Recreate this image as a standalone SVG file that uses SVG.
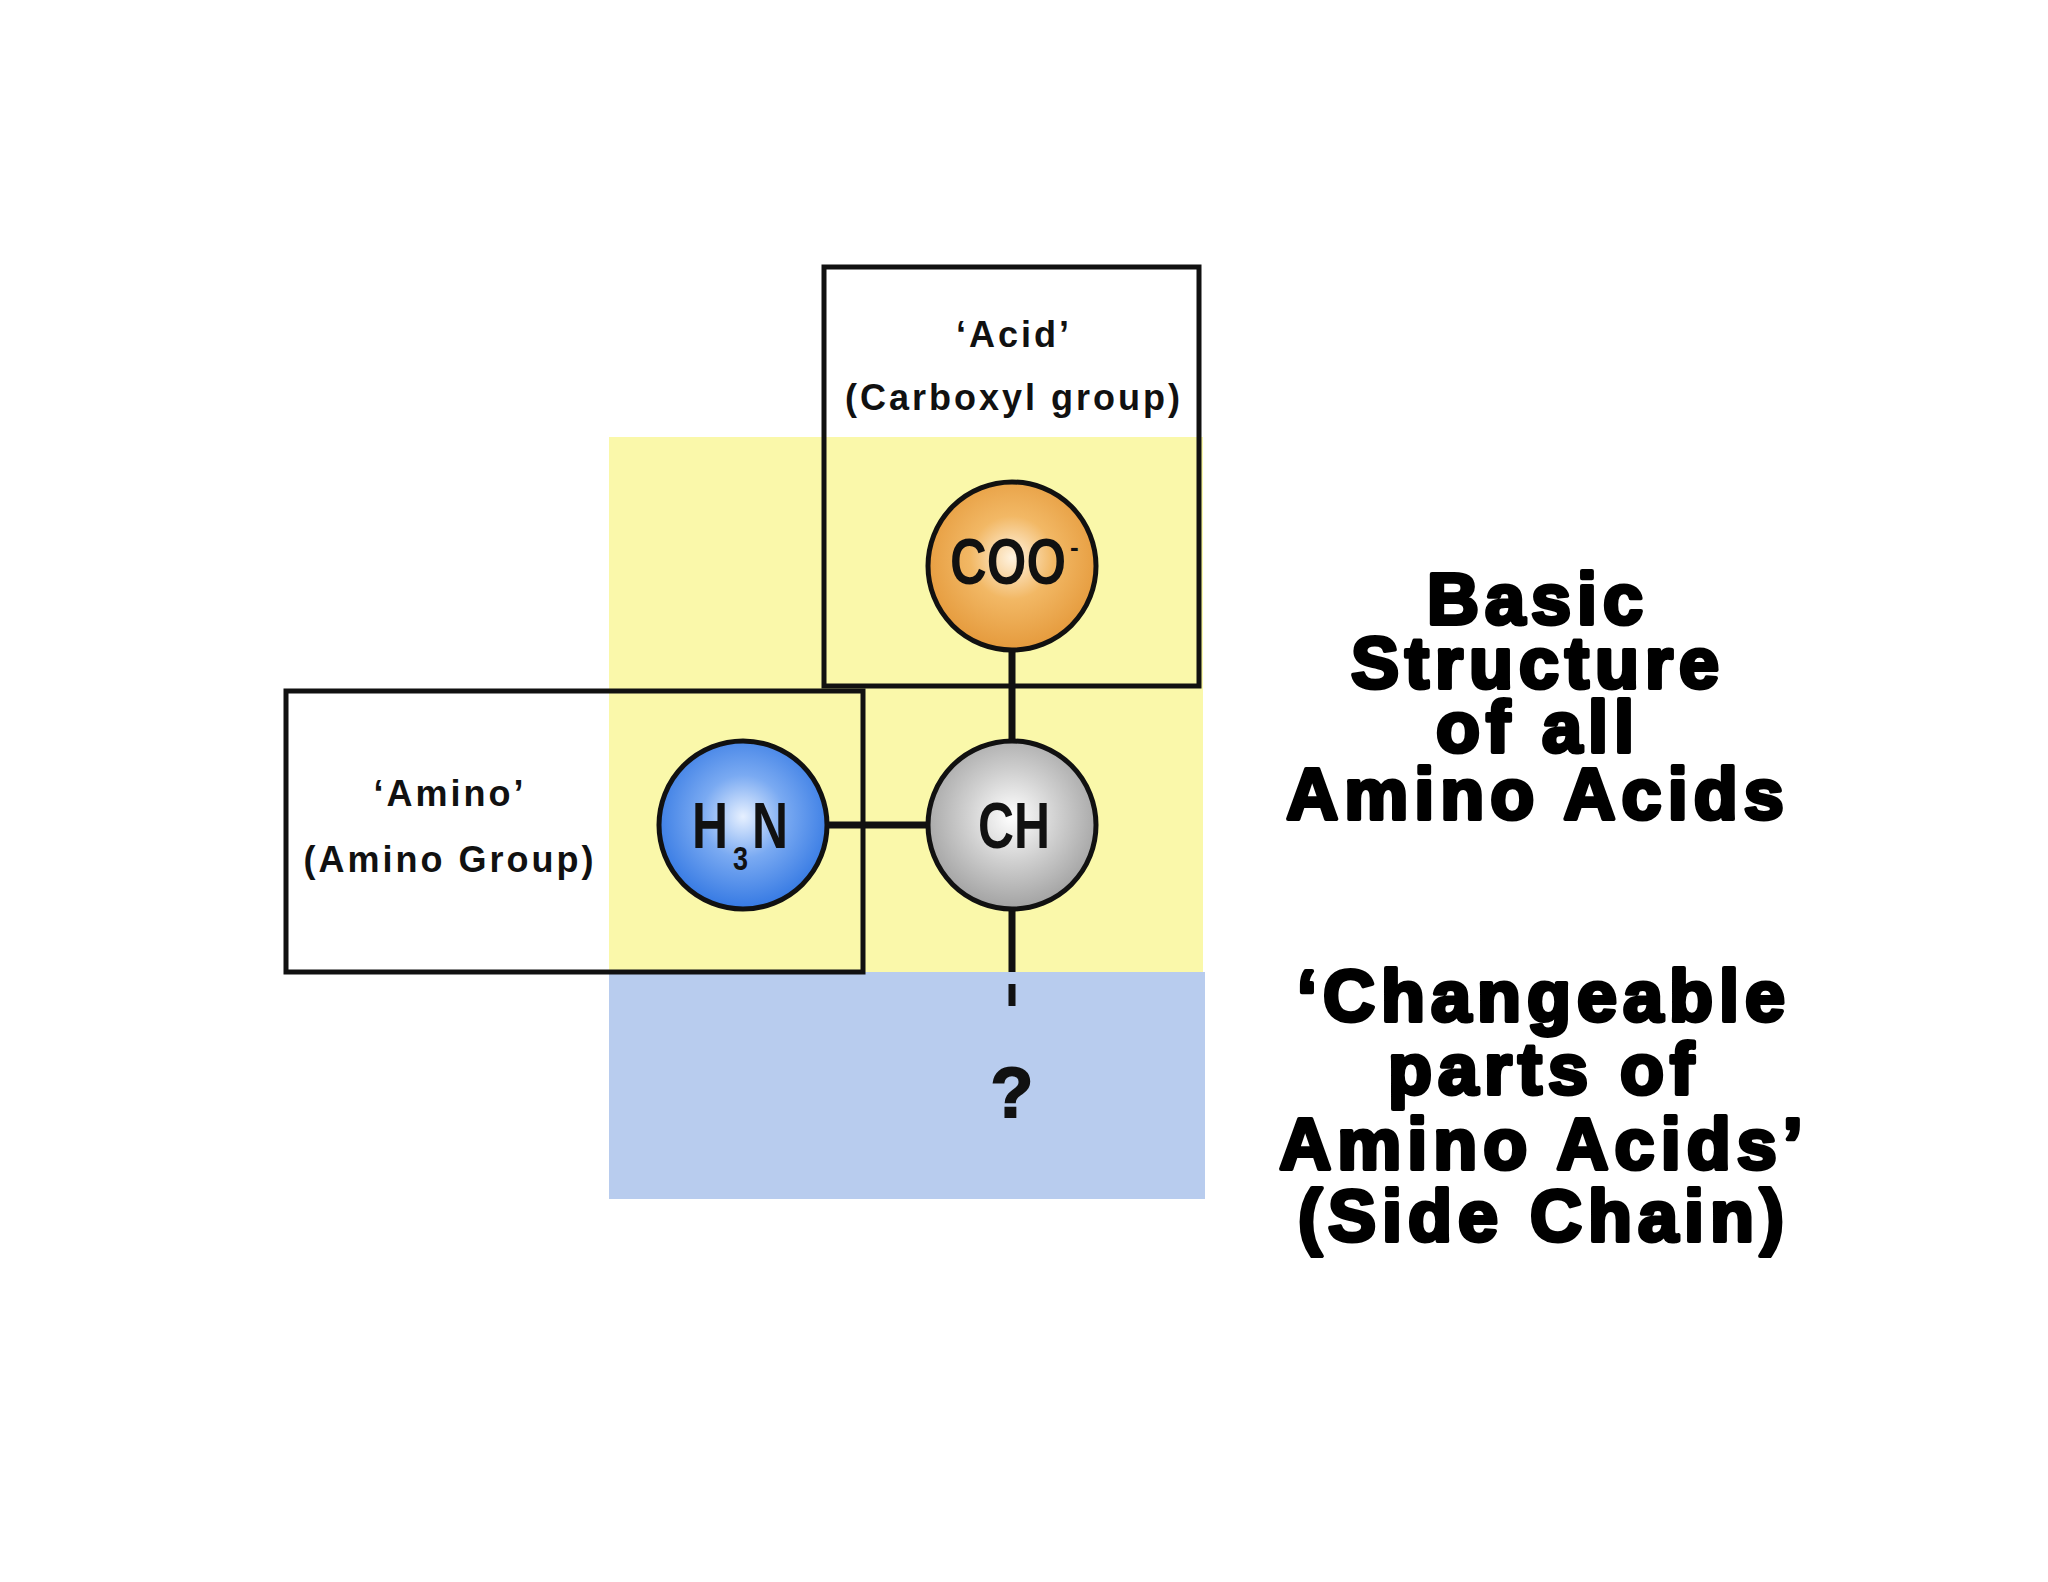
<svg xmlns="http://www.w3.org/2000/svg" width="2048" height="1582" viewBox="0 0 2048 1582">
<defs>
<radialGradient id="gOrange" cx="50%" cy="45%" r="55%">
<stop offset="0" stop-color="#FFF3E0"/><stop offset="0.45" stop-color="#F2B865"/><stop offset="1" stop-color="#E59A3C"/>
</radialGradient>
<radialGradient id="gBlue" cx="50%" cy="45%" r="55%">
<stop offset="0" stop-color="#E6F0FF"/><stop offset="0.45" stop-color="#7AAAF2"/><stop offset="1" stop-color="#3579E3"/>
</radialGradient>
<radialGradient id="gGray" cx="50%" cy="45%" r="55%">
<stop offset="0" stop-color="#FFFFFF"/><stop offset="0.5" stop-color="#CFCFCF"/><stop offset="1" stop-color="#A2A2A2"/>
</radialGradient>
</defs>
<style>
.box{fill:none;stroke:#111;stroke-width:5}
.atom{stroke:#111;stroke-width:5}
.bond{stroke:#111;stroke-width:7;fill:none}
.lbl{font-family:"Liberation Sans",Arial,sans-serif;font-weight:bold;font-size:36px;letter-spacing:3px;fill:#111;text-anchor:middle}
.atomtxt{font-family:"Liberation Sans",Arial,sans-serif;font-weight:bold;font-size:64px;fill:#111}
.big{font-family:"Liberation Sans",Arial,sans-serif;font-weight:bold;font-size:72px;fill:#000;stroke:#000;stroke-width:4;stroke-linejoin:round;text-anchor:middle;letter-spacing:6px}
</style>
<rect width="2048" height="1582" fill="#FFFFFF"/>
<rect x="609" y="437" width="594" height="535" fill="#FAF8AA"/>
<rect x="609" y="972" width="596" height="227" fill="#B8CCEE"/>

<g id="connectors">
<line class="bond" x1="1012" y1="650" x2="1012" y2="742"/>
<line class="bond" x1="827" y1="825" x2="928" y2="825"/>
<line class="bond" x1="1012" y1="908" x2="1012" y2="972"/>
<line class="bond" x1="1012" y1="984" x2="1012" y2="1006"/>
</g>

<g id="acid-box">
<rect class="box" x="824" y="267" width="375" height="419"/>
<text class="lbl" x="1014" y="347">‘Acid’</text>
<text class="lbl" x="1014" y="410">(Carboxyl group)</text>
</g>
<g id="amino-box">
<rect class="box" x="286" y="691" width="577" height="281"/>
<text class="lbl" x="450" y="806">‘Amino’</text>
<text class="lbl" x="450" y="872">(Amino Group)</text>
</g>

<g id="coo">
<circle class="atom" cx="1012" cy="566" r="84" fill="url(#gOrange)"/>
<text class="atomtxt" x="950" y="584" textLength="116" lengthAdjust="spacingAndGlyphs">COO</text>
<text class="atomtxt" x="1070" y="556" style="font-size:26px">-</text>
</g>
<g id="h3n">
<circle class="atom" cx="743" cy="825" r="84" fill="url(#gBlue)"/>
<text class="atomtxt" x="692" y="848" textLength="36" lengthAdjust="spacingAndGlyphs">H</text>
<text class="atomtxt" x="733" y="870" style="font-size:34px" textLength="15" lengthAdjust="spacingAndGlyphs">3</text>
<text class="atomtxt" x="752" y="848" textLength="36" lengthAdjust="spacingAndGlyphs">N</text>
</g>
<g id="ch">
<circle class="atom" cx="1012" cy="825" r="84" fill="url(#gGray)"/>
<text class="atomtxt" x="978" y="848" textLength="72" lengthAdjust="spacingAndGlyphs">CH</text>
</g>
<g id="sidechain">
<text x="1012" y="1117" style="font-family:'Liberation Sans',Arial,sans-serif;font-weight:bold;font-size:70px;fill:#111;stroke:#111;stroke-width:2;text-anchor:middle">?</text>
</g>

<g id="title">
<text class="big" x="1538" y="624">Basic</text>
<text class="big" x="1538" y="688">Structure</text>
<text class="big" x="1538" y="752">of all</text>
<text class="big" x="1538" y="819">Amino Acids</text>
</g>
<g id="changeable">
<text class="big" x="1544" y="1021">‘Changeable</text>
<text class="big" x="1544" y="1094">parts of</text>
<text class="big" x="1544" y="1169">Amino Acids’</text>
<text class="big" x="1544" y="1241">(Side Chain)</text>
</g>
</svg>
